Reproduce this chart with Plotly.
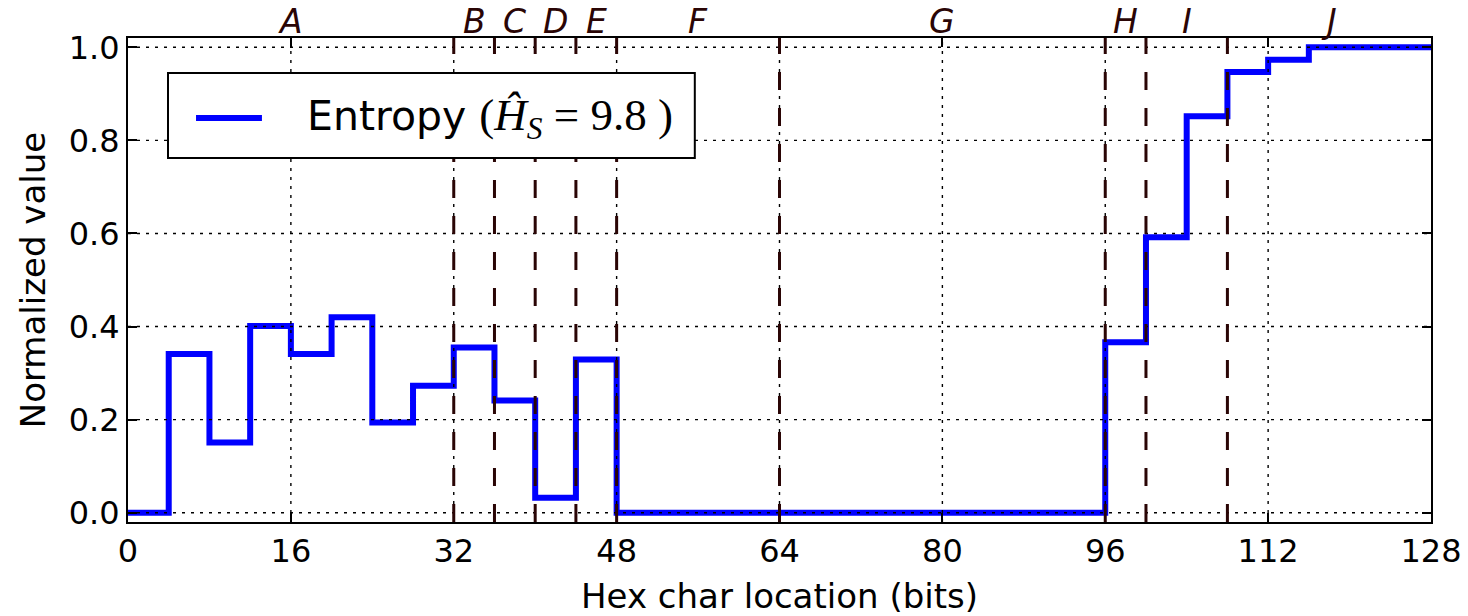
import plotly.graph_objects as go

# Normalized entropy per hex character (4 bits each), 32 characters
char_start_bits = list(range(0, 128, 4))
entropy_values = [
    0.0, 0.341, 0.151, 0.401, 0.341, 0.420, 0.194, 0.273,
    0.355, 0.241, 0.032, 0.329, 0.0, 0.0, 0.0, 0.0,
    0.0, 0.0, 0.0, 0.0, 0.0, 0.0, 0.0, 0.0,
    0.366, 0.592, 0.852, 0.947, 0.973, 1.0, 1.0, 1.0,
]
end_bit = 128

# Field boundaries and field names
boundaries = [32, 36, 40, 44, 48, 64, 96, 100, 108]
field_names = ["A", "B", "C", "D", "E", "F", "G", "H", "I", "J"]

x_ticks = [0, 16, 32, 48, 64, 80, 96, 112, 128]
y_ticks = [0.0, 0.2, 0.4, 0.6, 0.8, 1.0]

BLUE = "#0000ff"
MARK = "#2a0505"
FONT = "DejaVu Sans"

x_step = char_start_bits + [end_bit]
y_step = entropy_values + [entropy_values[-1]]

fig = go.Figure()
fig.add_trace(go.Scatter(
    x=x_step, y=y_step, mode="lines", line_shape="hv",
    line=dict(color=BLUE, width=6), showlegend=False,
))

shapes = []
# dotted grid drawn over the data line
for xv in x_ticks[1:-1]:
    shapes.append(dict(type="line", xref="x", yref="y", x0=xv, x1=xv,
                       y0=-0.02, y1=1.02, layer="above",
                       line=dict(color="black", width=1.4, dash="3px,6px")))
for yv in y_ticks:
    shapes.append(dict(type="line", xref="paper", yref="y", x0=0, x1=1,
                       y0=yv, y1=yv, layer="above",
                       line=dict(color="black", width=1.4, dash="3px,6px")))
# field boundaries
for b in boundaries:
    shapes.append(dict(type="line", xref="x", yref="paper", x0=b, x1=b,
                       y0=0, y1=1, layer="above",
                       line=dict(color=MARK, width=3, dash="18px,18px")))

# legend box
shapes.append(dict(type="rect", xref="paper", yref="paper",
                   x0=0.0307, x1=0.435, y0=0.752, y1=0.9277, layer="above",
                   fillcolor="white", line=dict(color="black", width=2)))
shapes.append(dict(type="line", xref="paper", yref="paper",
                   x0=0.0522, x1=0.1028, y0=0.8347, y1=0.8347, layer="above",
                   line=dict(color=BLUE, width=6)))

annotations = []
edges = [0] + boundaries + [end_bit]
for i, name in enumerate(field_names):
    mid = (edges[i] + edges[i + 1]) / 2
    annotations.append(dict(
        x=mid, y=1, xref="x", yref="paper", xanchor="center", yanchor="bottom",
        text=f"<i>{name}</i>", showarrow=False, yshift=-5,
        font=dict(family=FONT, size=33, color=MARK),
    ))

annotations.append(dict(
    x=0.1358, y=0.8347, xref="paper", yref="paper", xanchor="left",
    yanchor="middle", showarrow=False,
    text=("Entropy <span style='font-family:Liberation Serif;font-size:45px'>"
          "(<i>Ĥ</i><sub><i>S</i></sub> = 9.8 )</span>"),
    font=dict(family=FONT, size=41, color="black"),
))

axis_common = dict(
    showgrid=False, zeroline=False, showline=True, linecolor="black",
    linewidth=2, mirror="ticks", ticks="inside", ticklen=9, tickwidth=1.5,
    tickcolor="black", layer="above traces", automargin=False,
    tickfont=dict(family=FONT, size=32, color="black"),
)

fig.update_layout(
    width=1468, height=616,
    margin=dict(l=128, r=37, t=38, b=94),
    paper_bgcolor="white", plot_bgcolor="white",
    shapes=shapes, annotations=annotations,
    xaxis=dict(range=[0, 128], tickvals=x_ticks,
               ticktext=[str(v) for v in x_ticks],
               title=dict(text="Hex char location (bits)", standoff=17,
                          font=dict(family=FONT, size=34, color="black")),
               **axis_common),
    yaxis=dict(range=[-0.02, 1.02], tickvals=y_ticks,
               ticktext=[f"{v:.1f}" for v in y_ticks],
               title=dict(text="Normalized value", standoff=13,
                          font=dict(family=FONT, size=34, color="black")),
               **axis_common),
)

fig.write_html("out.html")
